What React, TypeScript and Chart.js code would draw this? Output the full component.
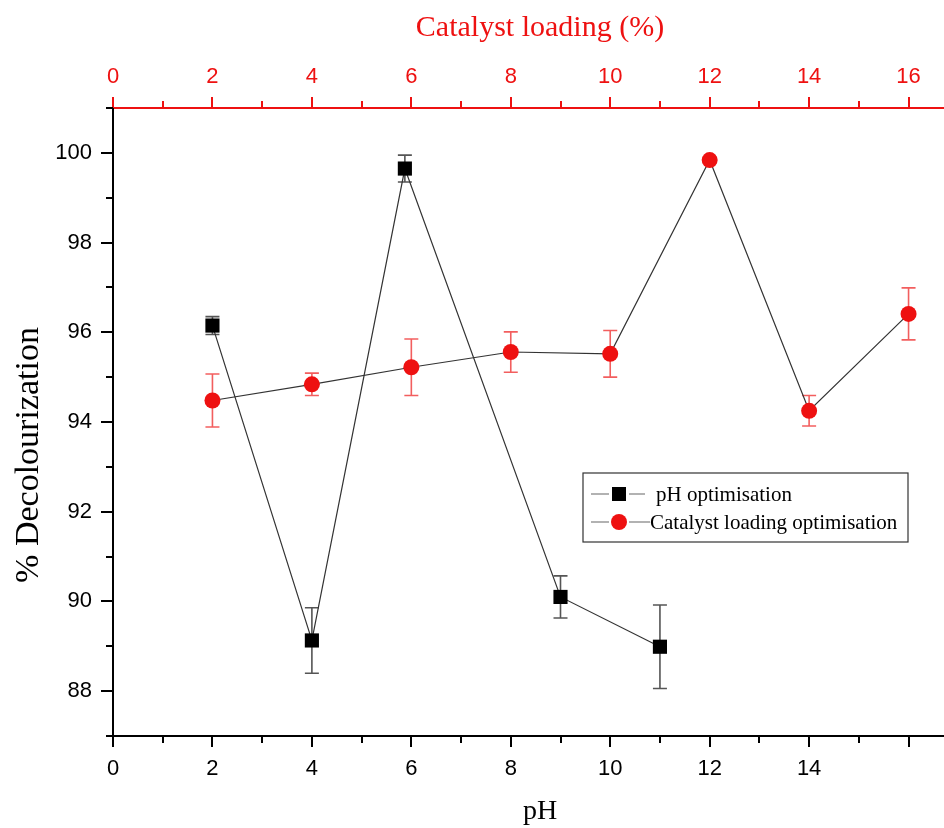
import React, { useEffect, useRef } from 'react';
import { Chart, registerables } from 'chart.js';

Chart.register(...registerables);

// pH optimisation (bottom axis)
const phValues = [2, 4, 5.87, 9, 11];
const phDecolour = [96.15, 89.13, 99.65, 90.1, 88.99];
const phError = [0.2, 0.73, 0.3, 0.47, 0.93];

// Catalyst loading optimisation (top axis)
const catalystLoading = [2, 4, 6, 8, 10, 12, 14, 16];
const catalystDecolour = [94.48, 94.84, 95.22, 95.56, 95.52, 99.84, 94.25, 96.41];
const catalystError = [0.59, 0.25, 0.63, 0.45, 0.52, 0.06, 0.34, 0.58];

const bottomTickLabels = ['0', '2', '4', '6', '8', '10', '12', '14'];
const topTickLabels = ['0', '2', '4', '6', '8', '10', '12', '14', '16'];
const yTickLabels = ['88', '90', '92', '94', '96', '98', '100'];

const seriesNames = ['pH optimisation', 'Catalyst loading optimisation'];
const axisTitles = { x: 'pH', x2: 'Catalyst loading (%)', y: '% Decolourization' };

const RED = '#ee1111';
const SERIF = '"Liberation Serif", "Times New Roman", serif';

const errorBarPlugin = {
  id: 'errorBars',
  beforeDatasetsDraw(chart: any) {
    const ctx = chart.ctx;
    const errs = [phError, catalystError];
    const colors = ['#555555', 'rgba(238,40,40,0.75)'];
    chart.data.datasets.forEach((ds: any, i: number) => {
      const meta = chart.getDatasetMeta(i);
      const xs = meta.xScale;
      const ys = meta.yScale;
      ctx.save();
      ctx.strokeStyle = colors[i];
      ctx.lineWidth = 1.6;
      ds.data.forEach((p: any, j: number) => {
        const px = xs.getPixelForValue(p.x);
        const top = ys.getPixelForValue(p.y + errs[i][j]);
        const bot = ys.getPixelForValue(p.y - errs[i][j]);
        ctx.beginPath();
        ctx.moveTo(px, top);
        ctx.lineTo(px, bot);
        ctx.moveTo(px - 7, top);
        ctx.lineTo(px + 7, top);
        ctx.moveTo(px - 7, bot);
        ctx.lineTo(px + 7, bot);
        ctx.stroke();
      });
      ctx.restore();
    });
  },
};

const tickMarkPlugin = {
  id: 'tickMarks',
  afterDraw(chart: any) {
    const ctx = chart.ctx;
    const area = chart.chartArea;
    ctx.save();
    ctx.lineWidth = 2;
    const xb = chart.scales.x;
    ctx.strokeStyle = '#000';
    xb.ticks.forEach((t: any) => {
      const px = Math.round(xb.getPixelForValue(t.value));
      const len = t.value % 2 === 0 ? 11 : 7;
      ctx.beginPath();
      ctx.moveTo(px, area.bottom);
      ctx.lineTo(px, area.bottom + len);
      ctx.stroke();
    });
    const xt = chart.scales.x2;
    ctx.strokeStyle = RED;
    xt.ticks.forEach((t: any) => {
      const px = Math.round(xt.getPixelForValue(t.value));
      const len = t.value % 2 === 0 ? 11 : 7;
      ctx.beginPath();
      ctx.moveTo(px, area.top);
      ctx.lineTo(px, area.top - len);
      ctx.stroke();
    });
    const yl = chart.scales.y;
    ctx.strokeStyle = '#000';
    yl.ticks.forEach((t: any) => {
      const py = Math.round(yl.getPixelForValue(t.value));
      const len = t.value % 2 === 0 ? 12 : 7;
      ctx.beginPath();
      ctx.moveTo(area.left, py);
      ctx.lineTo(area.left - len, py);
      ctx.stroke();
    });
    ctx.restore();
  },
};

const titlePlugin = {
  id: 'axisTitles',
  afterDraw(chart: any) {
    const ctx = chart.ctx;
    const area = chart.chartArea;
    ctx.save();
    ctx.textAlign = 'center';
    ctx.textBaseline = 'middle';
    ctx.fillStyle = RED;
    ctx.font = `30px ${SERIF}`;
    ctx.fillText(axisTitles.x2, area.left + 427, area.top - 80);
    ctx.fillStyle = '#000';
    ctx.font = `28px ${SERIF}`;
    ctx.fillText(axisTitles.x, area.left + 427, area.bottom + 76);
    ctx.translate(area.left - 84, area.top + 347);
    ctx.rotate(-Math.PI / 2);
    ctx.font = `34px ${SERIF}`;
    ctx.fillText(axisTitles.y, 0, 0);
    ctx.restore();
  },
};

const legendPlugin = {
  id: 'boxLegend',
  afterDraw(chart: any) {
    const ctx = chart.ctx;
    const area = chart.chartArea;
    const bx = area.left + 470;
    const by = area.top + 365;
    const bw = 325;
    const bh = 69;
    ctx.save();
    ctx.fillStyle = '#fff';
    ctx.fillRect(bx, by, bw, bh);
    ctx.strokeStyle = '#333';
    ctx.lineWidth = 1.2;
    ctx.strokeRect(bx, by, bw, bh);
    const rows = [by + 21, by + 49];
    rows.forEach((ry, i) => {
      const mx = bx + 36;
      ctx.strokeStyle = '#666';
      ctx.lineWidth = 1.2;
      ctx.beginPath();
      ctx.moveTo(bx + 8, ry);
      ctx.lineTo(mx - 10, ry);
      ctx.moveTo(mx + 10, ry);
      ctx.lineTo(bx + (i === 0 ? 62 : 67), ry);
      ctx.stroke();
      if (i === 0) {
        ctx.fillStyle = '#000';
        ctx.fillRect(mx - 7, ry - 7, 14, 14);
      } else {
        ctx.fillStyle = RED;
        ctx.beginPath();
        ctx.arc(mx, ry, 8, 0, Math.PI * 2);
        ctx.fill();
      }
      ctx.fillStyle = '#000';
      ctx.font = `21px ${SERIF}`;
      ctx.textBaseline = 'middle';
      ctx.textAlign = 'left';
      ctx.fillText(seriesNames[i], bx + (i === 0 ? 73 : 67), ry + 1);
    });
    ctx.restore();
  },
};

export default function App() {
  const ref = useRef<HTMLCanvasElement | null>(null);
  useEffect(() => {
    if (!ref.current) return;
    const tickFont = { family: '"Liberation Sans", Arial, sans-serif', size: 22 };
    const fitX = (h: number) => (s: any) => {
      s.height = h;
      s.paddingLeft = 0;
      s.paddingRight = 0;
    };
    const chart = new Chart(ref.current, {
      type: 'scatter',
      data: {
        datasets: [
          {
            label: seriesNames[0],
            data: phValues.map((v, i) => ({ x: v, y: phDecolour[i] })),
            xAxisID: 'x',
            yAxisID: 'y',
            showLine: true,
            borderColor: '#333',
            borderWidth: 1.2,
            pointStyle: 'rect',
            pointRadius: 10,
            pointBackgroundColor: '#000',
            pointBorderWidth: 0,
          },
          {
            label: seriesNames[1],
            data: catalystLoading.map((v, i) => ({ x: v, y: catalystDecolour[i] })),
            xAxisID: 'x2',
            yAxisID: 'y',
            showLine: true,
            borderColor: '#333',
            borderWidth: 1.2,
            pointStyle: 'circle',
            pointRadius: 8,
            pointBackgroundColor: RED,
            pointBorderWidth: 0,
          },
        ],
      },
      options: {
        responsive: false,
        animation: false,
        devicePixelRatio: 1,
        layout: { padding: 0 },
        plugins: { legend: { display: false }, tooltip: { enabled: false } },
        scales: {
          x: {
            type: 'linear',
            position: 'bottom',
            min: 0,
            max: 18,
            grid: { display: false },
            border: { display: true, color: '#000', width: 2 },
            ticks: {
              stepSize: 1,
              autoSkip: false,
              maxRotation: 0,
              minRotation: 0,
              padding: 12,
              color: '#000',
              font: tickFont,
              callback: (v: any) => {
                const idx = bottomTickLabels.indexOf(String(v));
                return idx >= 0 ? bottomTickLabels[idx] : '';
              },
            },
            afterFit: fitX(92),
          },
          x2: {
            type: 'linear',
            position: 'top',
            min: 0,
            max: 18,
            grid: { display: false },
            border: { display: true, color: RED, width: 2 },
            ticks: {
              stepSize: 1,
              autoSkip: false,
              maxRotation: 0,
              minRotation: 0,
              padding: 10,
              color: RED,
              font: tickFont,
              callback: (v: any) => {
                const idx = topTickLabels.indexOf(String(v));
                return idx >= 0 ? topTickLabels[idx] : '';
              },
            },
            afterFit: fitX(108),
          },
          y: {
            type: 'linear',
            position: 'left',
            min: 87,
            max: 101,
            grid: { display: false },
            border: { display: true, color: '#000', width: 2 },
            ticks: {
              stepSize: 1,
              autoSkip: false,
              padding: 13,
              color: '#000',
              font: tickFont,
              callback: (v: any) => {
                const idx = yTickLabels.indexOf(String(v));
                return idx >= 0 ? yTickLabels[idx] : '';
              },
            },
            afterFit: (s: any) => {
              s.width = 113;
            },
          },
        },
      },
      plugins: [errorBarPlugin, tickMarkPlugin, titlePlugin, legendPlugin],
    } as any);
    return () => chart.destroy();
  }, []);
  return (
    <div
      style={{
        position: 'absolute',
        left: 0,
        top: 0,
        width: 944,
        height: 828,
        overflow: 'hidden',
        background: '#fff',
      }}
    >
      <canvas ref={ref} width={1018} height={828} style={{ display: 'block' }} />
    </div>
  );
}
